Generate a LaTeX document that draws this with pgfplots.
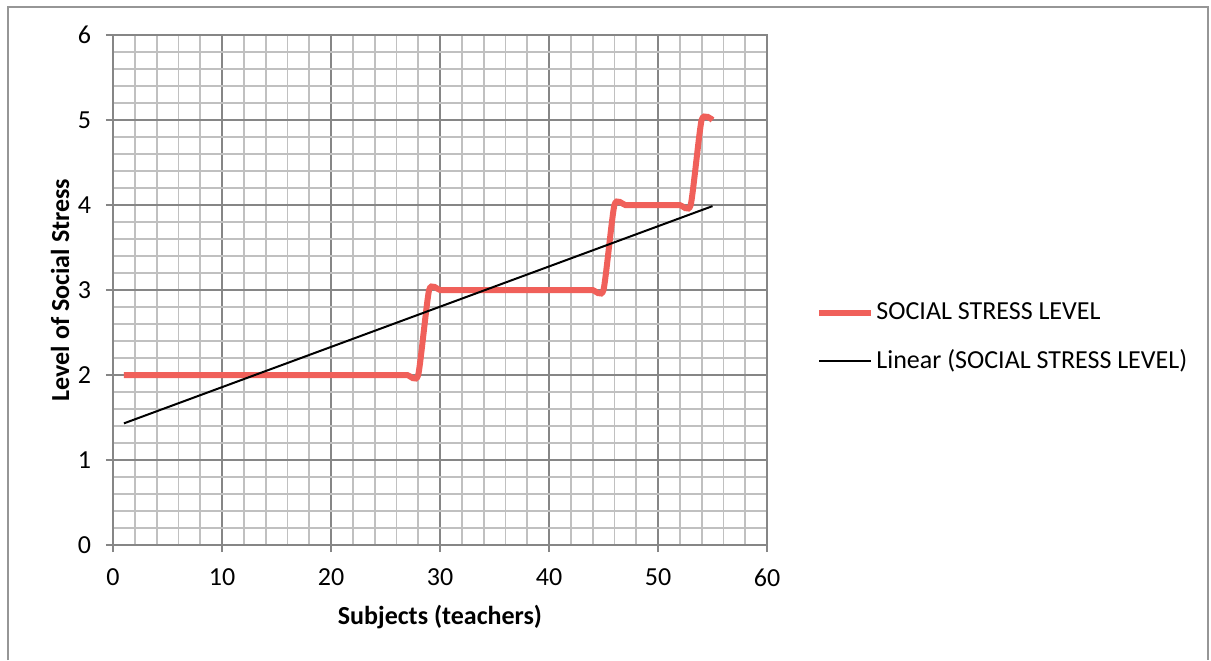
\documentclass[border=0pt]{standalone}
\usepackage{pgfplots}
\pgfplotsset{compat=1.18}
\usepackage{fontspec}
\setmainfont{Carlito}
\definecolor{stressred}{RGB}{240,96,90}
\definecolor{majgrid}{RGB}{134,134,134}
\definecolor{mingrid}{RGB}{192,192,192}
\definecolor{frame}{RGB}{150,150,150}
\pgfplotstableread{
x y
1 2
2 2
3 2
4 2
5 2
6 2
7 2
8 2
9 2
10 2
11 2
12 2
13 2
14 2
15 2
16 2
17 2
18 2
19 2
20 2
21 2
22 2
23 2
24 2
25 2
26 2
27 2
28 2
29 3
30 3
31 3
32 3
33 3
34 3
35 3
36 3
37 3
38 3
39 3
40 3
41 3
42 3
43 3
44 3
45 3
46 4
47 4
48 4
49 4
50 4
51 4
52 4
53 4
54 5
55 5
}\stressdata
\begin{document}
\fontsize{13}{15}\selectfont
\begin{tikzpicture}
\useasboundingbox (-56.5pt,-57.5pt) rectangle (549pt,272.5pt);
\draw[frame,line width=1pt] (-52.5pt,-57.5pt) -- (-52.5pt,269pt) -- (547.5pt,269pt) -- (547.5pt,-57.5pt);
\begin{axis}[
  at={(0pt,0pt)}, anchor=origin,
  scale only axis,
  width=327pt, height=255pt,
  xmin=0, xmax=60, ymin=0, ymax=6,
  xtick={0,10,...,60}, ytick={0,1,...,6},
  minor x tick num=4, minor y tick num=4,
  grid=both,
  major grid style={majgrid,line width=0.9pt},
  minor grid style={mingrid,line width=0.9pt},
  axis line style={majgrid,line width=0.9pt},
  tick style={majgrid,line width=0.9pt},
  major tick length=3.5pt, minor tick length=0pt,
  tick align=outside,
  xtick pos=bottom, ytick pos=left,
  ticklabel style={font=\fontsize{13}{15}\selectfont},
  xticklabel style={yshift=-4pt},
  yticklabel style={xshift=-3pt},
  xlabel={\textbf{Subjects (teachers)}},
  ylabel={\textbf{Level of Social Stress}},
  label style={font=\fontsize{13}{15}\selectfont},
  xlabel style={at={(axis description cs:0.5,-0.141)}, anchor=center},
  ylabel style={at={(axis description cs:-0.081,0.5)}, anchor=center},
  /pgf/number format/assume math mode=true,
  legend style={draw=none, fill=none, at={(1.075,0.406)}, anchor=west,
    row sep=9pt, font=\fontsize{13}{15}\selectfont, inner sep=0pt,
    nodes={inner xsep=1pt}},
  legend cell align=left,
  legend image code/.code={\draw[#1] (0pt,0pt) -- (26pt,0pt);},
]
\addplot[stressred, line width=3pt, smooth, tension=0.35] table[x=x,y=y] {\stressdata};
\addlegendentry{SOCIAL STRESS LEVEL}
\addplot[black, line width=1pt] coordinates {(1,1.431) (55,3.987)};
\addlegendentry{Linear (SOCIAL STRESS LEVEL)}
\end{axis}
\end{tikzpicture}
\end{document}
